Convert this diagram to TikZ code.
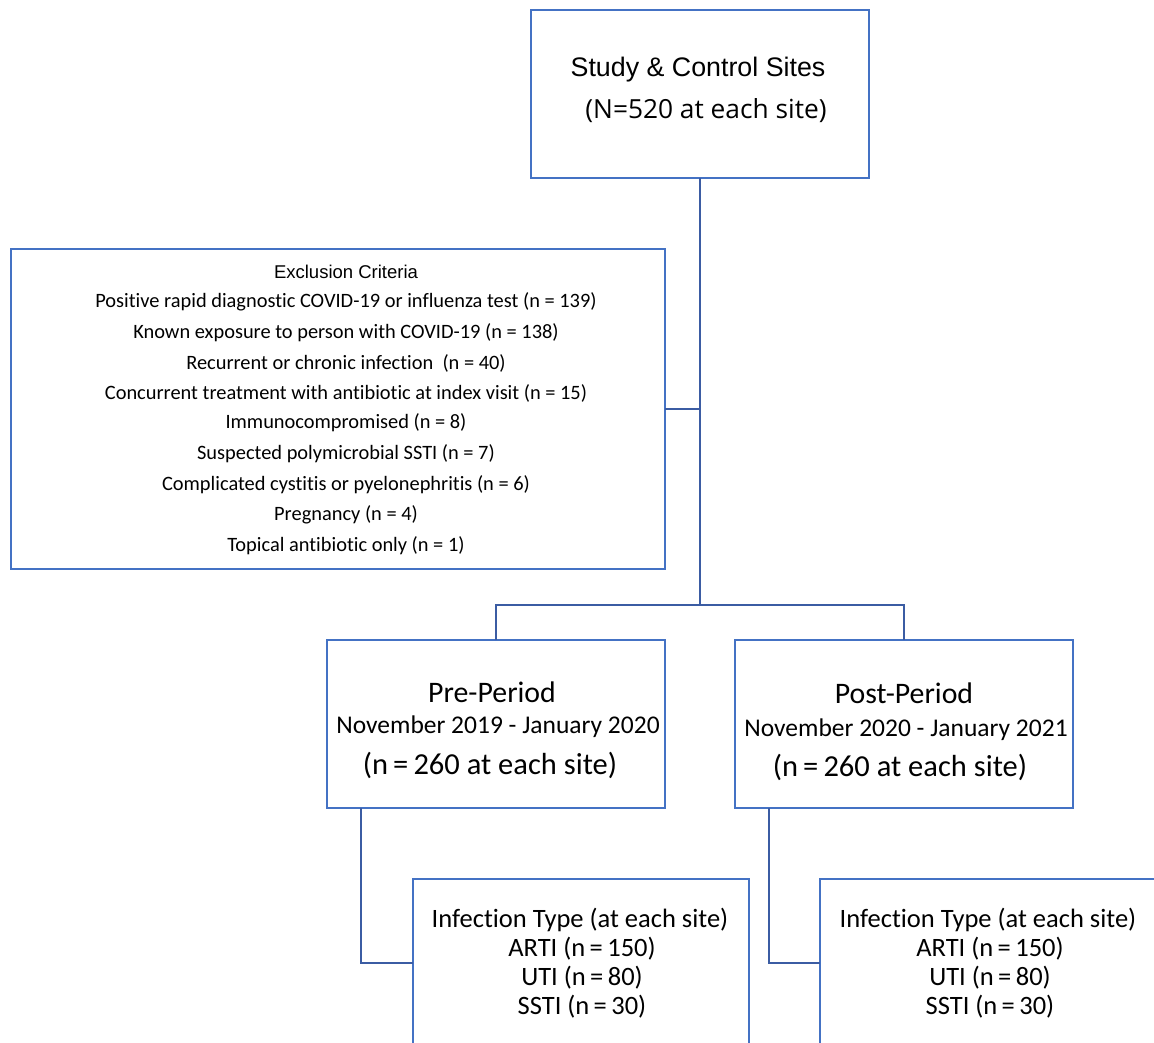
\documentclass[tikz,border=0pt]{standalone}
\usepackage{fontspec}
\setmainfont{Liberation Sans}
\newfontfamily\calfont[Ligatures=NoCommon]{Carlito}
\newfontfamily\osfont{Open Sans}
\definecolor{boxblue}{HTML}{4472C4}
\definecolor{lineblue}{HTML}{3B5CA3}
\newcommand{\fs}[1]{\fontsize{#1}{#1}\selectfont}
\begin{document}
\begin{tikzpicture}[x=1pt,y=-1pt,
  box/.style={draw=boxblue,line width=2pt,rectangle,inner sep=0pt,outer sep=0pt,anchor=north west},
  conn/.style={draw=lineblue,line width=2.8pt},
  txt/.style={inner sep=0pt,anchor=center,text=black}]
\useasboundingbox (0,0) rectangle (1154,1042);
\fill[white] (0,0) rectangle (1154,1042);
\clip (0,0) rectangle (1154,1042);

% boxes
\node[box,minimum width=338pt,minimum height=168pt] (top) at (531,10) {};
\node[box,minimum width=654pt,minimum height=320pt] (excl) at (11,249) {};
\node[box,minimum width=338pt,minimum height=168pt] (pre) at (327,640) {};
\node[box,minimum width=338pt,minimum height=168pt] (post) at (735,640) {};
\node[box,minimum width=336pt,minimum height=260pt] (inf1) at (413,879) {};
\node[box,minimum width=360pt,minimum height=260pt] (inf2) at (820,879) {};

% connector points
\coordinate (j1) at (700,409);
\coordinate (j2) at (700,605);
\coordinate (p1) at (361,963);
\coordinate (p2) at (769,963);

\draw[conn] (top.south) -- (j2);
\draw[conn] (excl.east) -- (j1);
\draw[conn] (pre.north) |- (j2) -| (post.north);
\draw[conn] (pre.south -| p1) -- (p1) -- (p1 -| inf1.west);
\draw[conn] (post.south -| p2) -- (p2) -- (p2 -| inf2.west);

% top texts
\node[txt] (t1) at (698,70) {\fs{26.8}Study \& Control Sites};
\node[txt] (t2) at (706,111) {\osfont\fs{26.3}(N=520 at each site)};

% exclusion texts
\node[txt] (e0) at (346,272) {\fs{18.5}Exclusion Criteria};
\node[txt] (e1) at (346,302) {\calfont\fs{20.4}Positive rapid diagnostic COVID-19 or influenza test (n = 139)};
\node[txt] (e2) at (346,333) {\calfont\fs{20.4}Known exposure to person with COVID-19 (n = 138)};
\node[txt] (e3) at (346,363) {\calfont\fs{20.4}Recurrent or chronic infection \ (n = 40)};
\node[txt] (e4) at (346,393) {\calfont\fs{20.4}Concurrent treatment with antibiotic at index visit (n = 15)};
\node[txt] (e5) at (346,423) {\calfont\fs{20.4}Immunocompromised (n = 8)};
\node[txt] (e6) at (346,454) {\calfont\fs{20.4}Suspected polymicrobial SSTI (n = 7)};
\node[txt] (e7) at (346,485) {\calfont\fs{20.4}Complicated cystitis or pyelonephritis (n = 6)};
\node[txt] (e8) at (346,515) {\calfont\fs{20.4}Pregnancy (n = 4)};
\node[txt] (e9) at (346,546) {\calfont\fs{20.4}Topical antibiotic only (n = 1)};

% pre period
\node[txt] (a1) at (492,692) {\calfont\fs{29.8}Pre-Period};
\node[txt] (a2) at (498,727) {\calfont\fs{25.5}November 2019 - January 2020};
\node[txt] (a3) at (490,765) {\calfont\fs{30.5}(n\,=\,260 at each site)};
% post period
\node[txt] (b1) at (904,693) {\calfont\fs{29.8}Post-Period};
\node[txt] (b2) at (906,730) {\calfont\fs{25.5}November 2020 - January 2021};
\node[txt] (b3) at (900,767) {\calfont\fs{30.5}(n\,=\,260 at each site)};

% infection types
\node[txt] (c1) at (580,920) {\calfont\fs{26.5}Infection Type (at each site)};
\node[txt] (c2) at (582,949) {\calfont\fs{26.5}ARTI (n\,=\,150)};
\node[txt] (c3) at (582,978) {\calfont\fs{26.5}UTI (n\,=\,80)};
\node[txt] (c4) at (582,1007) {\calfont\fs{26.5}SSTI (n\,=\,30)};
\node[txt] (d1) at (988,920) {\calfont\fs{26.5}Infection Type (at each site)};
\node[txt] (d2) at (990,949) {\calfont\fs{26.5}ARTI (n\,=\,150)};
\node[txt] (d3) at (990,978) {\calfont\fs{26.5}UTI (n\,=\,80)};
\node[txt] (d4) at (990,1007) {\calfont\fs{26.5}SSTI (n\,=\,30)};
\end{tikzpicture}
\end{document}
